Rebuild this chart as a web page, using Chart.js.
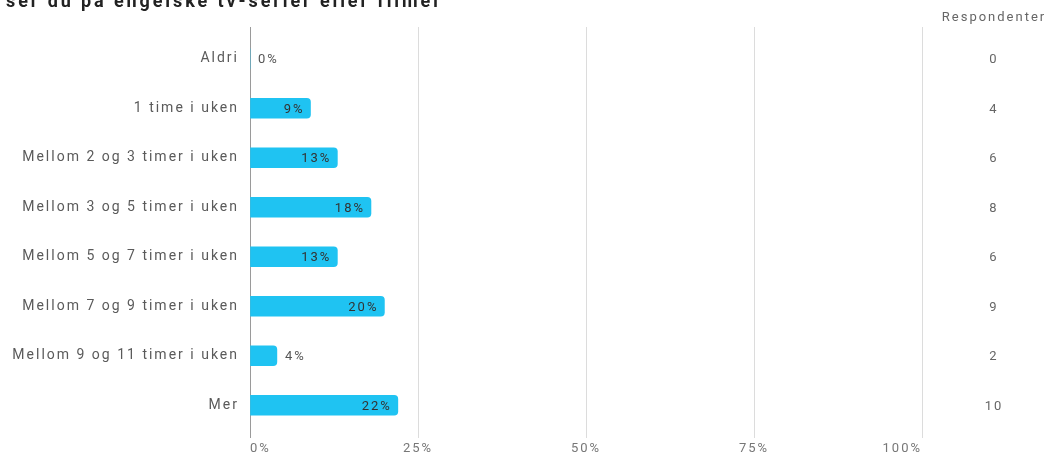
<!DOCTYPE html>
<html>
<head>
<meta charset="utf-8">
<script src="https://cdn.jsdelivr.net/npm/chart.js@4.4.0/dist/chart.umd.min.js"></script>
<style>
  html, body { margin: 0; padding: 0; background: #fff; overflow: hidden; }
  #wrap { position: relative; width: 1050px; height: 457px; }
  #title { position: absolute; left: 6px; top: -10px; font: bold 18px Roboto, sans-serif; letter-spacing: 2.9px; color: #222; white-space: nowrap; }
</style>
</head>
<body>
<div id="wrap">
  <canvas id="chart" width="1050" height="457"></canvas>
  <div id="title">ser du på engelske tv-serier eller filmer</div>
</div>
<script>
// data
var categories = [
    'Aldri',
    '1 time i uken',
    'Mellom 2 og 3 timer i uken',
    'Mellom 3 og 5 timer i uken',
    'Mellom 5 og 7 timer i uken',
    'Mellom 7 og 9 timer i uken',
    'Mellom 9 og 11 timer i uken',
    'Mer'
];
var percent = [0, 9, 13, 18, 13, 20, 4, 22];
var respondents = [0, 4, 6, 8, 6, 9, 2, 10];
var xTicks = [0, 25, 50, 75, 100];
var countHeader = 'Respondenter';

var barBlue = '#1fc3f2';

// the source renders its text wide, so space the letters out
var wideText = {
    id: 'wideText',
    beforeDraw: function (chart) {
        chart.ctx.letterSpacing = '2px';
    }
};

var valueLabels = {
    id: 'valueLabels',
    afterDatasetsDraw: function (chart) {
        var ctx = chart.ctx;
        var meta = chart.getDatasetMeta(0);
        ctx.save();
        ctx.letterSpacing = '2px';
        ctx.font = '13px Roboto';
        ctx.textBaseline = 'middle';
        meta.data.forEach(function (bar, i) {
            var txt = percent[i] + '%';
            if (percent[i] >= 8) {
                ctx.fillStyle = '#333';
                ctx.textAlign = 'right';
                ctx.fillText(txt, bar.x - 6, bar.y + 1);
            } else {
                ctx.fillStyle = '#555';
                ctx.textAlign = 'left';
                ctx.fillText(txt, bar.x + 8, bar.y + 1);
            }
        });
        ctx.restore();
    }
};

var countColumn = {
    id: 'countColumn',
    afterDraw: function (chart) {
        var ctx = chart.ctx;
        var y = chart.scales.y;
        var x = chart.scales.x;
        ctx.save();
        // grid lines run a bit above the plot area
        ctx.lineWidth = 1;
        xTicks.forEach(function (t) {
            var px = Math.round(x.getPixelForValue(t)) + 0.5;
            ctx.strokeStyle = t === 0 ? '#9a9a9a' : '#dcdcdc';
            ctx.beginPath();
            ctx.moveTo(px, chart.chartArea.top - 7);
            ctx.lineTo(px, chart.chartArea.top);
            ctx.stroke();
        });
        ctx.letterSpacing = '2px';
        ctx.fillStyle = '#666';
        ctx.font = '13px Roboto';
        ctx.textAlign = 'center';
        ctx.textBaseline = 'middle';
        ctx.fillText(countHeader, 994, 18);
        respondents.forEach(function (n, i) {
            ctx.fillText(String(n), 994, y.getPixelForValue(i) + 1);
        });
        ctx.restore();
    }
};

new Chart(document.getElementById('chart').getContext('2d'), {
    type: 'bar',
    data: {
        labels: categories,
        datasets: [{
            data: percent,
            backgroundColor: barBlue,
            borderRadius: 4,
            borderSkipped: 'start',
            barThickness: 20
        }]
    },
    options: {
        indexAxis: 'y',
        responsive: false,
        animation: false,
        layout: { padding: { top: 34, right: 128, left: 0, bottom: 0 } },
        plugins: { legend: { display: false }, tooltip: { enabled: false } },
        scales: {
            x: {
                min: 0,
                max: 100,
                afterBuildTicks: function (scale) {
                    scale.ticks = xTicks.map(function (v) { return { value: v }; });
                },
                afterFit: function (scale) { scale.height = 27; },
                border: { display: false },
                grid: {
                    color: function (c) { return c.tick && c.tick.value === 0 ? '#9a9a9a' : '#dcdcdc'; },
                    tickLength: 8
                },
                ticks: {
                    align: 'inner',
                    padding: 3,
                    color: '#777',
                    font: { family: 'Roboto', size: 13 },
                    callback: function (v) { return v + '%'; }
                }
            },
            y: {
                afterFit: function (scale) { scale.width = 250; },
                border: { display: false },
                grid: { display: false, drawTicks: false },
                ticks: {
                    padding: 11,
                    color: '#5a5a5a',
                    font: { family: 'Roboto', size: 14 }
                }
            }
        }
    },
    plugins: [wideText, valueLabels, countColumn]
});
</script>
</body>
</html>
